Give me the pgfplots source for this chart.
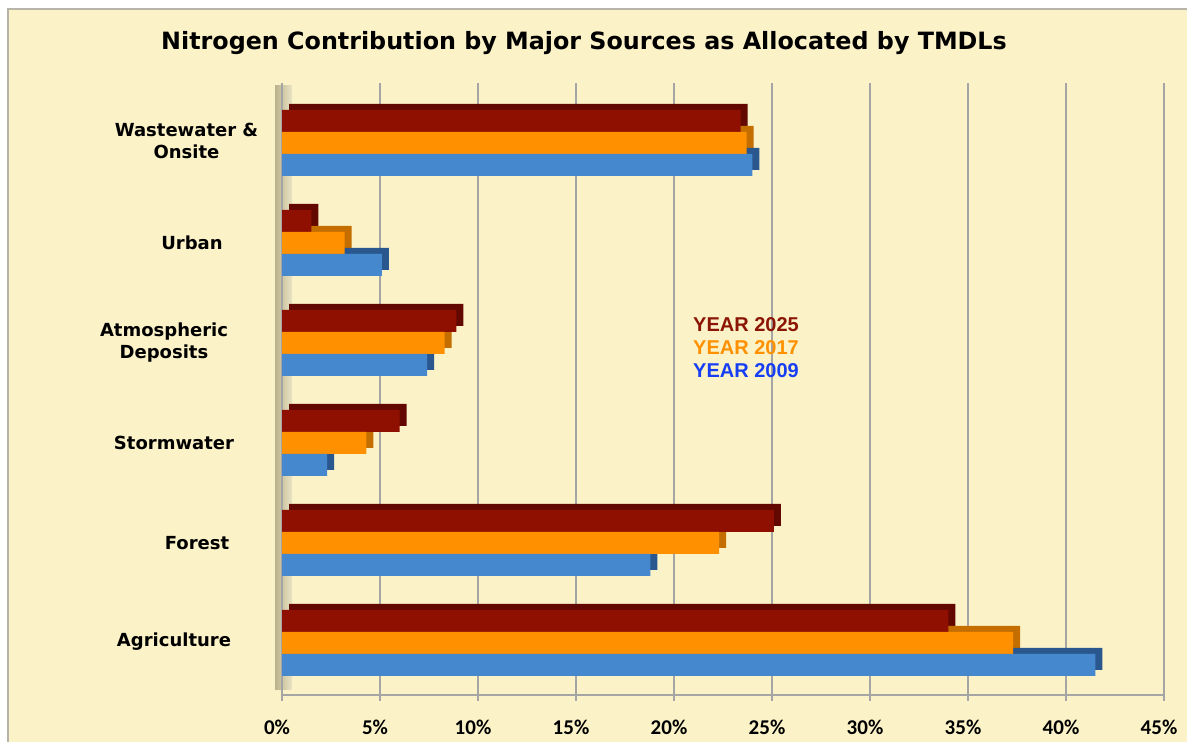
\documentclass[border=0pt]{standalone}
\usepackage{pgfplots}
\pgfplotsset{compat=1.18}
\usepackage{pgfplotstable}
\usepackage{fontspec}
\setmainfont{DejaVu Sans}
\newfontfamily\legfont{Liberation Sans}
\newfontfamily\tickfont{Carlito}

\definecolor{bg}{RGB}{251,242,200}
\definecolor{frame}{RGB}{185,180,170}
\definecolor{cA}{RGB}{143,16,0}
\definecolor{cAd}{RGB}{98,8,0}
\definecolor{cB}{RGB}{255,145,0}
\definecolor{cBd}{RGB}{196,110,0}
\definecolor{cC}{RGB}{70,136,206}
\definecolor{cCd}{RGB}{42,88,142}
\definecolor{tA}{RGB}{140,22,6}
\definecolor{tB}{RGB}{255,145,0}
\definecolor{tC}{RGB}{22,62,245}
\definecolor{gridc}{RGB}{165,165,165}
\definecolor{wallL}{RGB}{185,178,140}
\definecolor{wallR}{RGB}{235,228,196}

\pgfplotstableread{
pos y2025 y2017 y2009
0 34.0 37.3 41.5
1 25.1 22.3 18.8
2 6.0 4.3 2.3
3 8.9 8.3 7.4
4 1.5 3.2 5.1
5 23.4 23.7 24.0
}\datatable

\begin{document}
\begin{tikzpicture}
\useasboundingbox (0,0) rectangle (593.5pt,371pt);
\fill[white] (0,0) rectangle (593.5pt,371pt);
\filldraw[fill=bg, draw=frame, line width=0.8pt] (4pt,-3pt) rectangle (597pt,366.5pt);
\shade[left color=wallL, right color=wallR] (137.5pt,26pt) rectangle (146pt,328pt);
\node[font=\bfseries\fontsize{11.9}{14}\selectfont] at (292pt,349.5pt) {Nitrogen Contribution by Major Sources as Allocated by TMDLs};
\begin{axis}[
  at={(141pt,23.5pt)}, anchor=south west,
  scale only axis, width=441pt, height=306pt,
  xmin=0, xmax=45, ymin=-0.52, ymax=5.6,
  axis background/.style={fill=none},
  separate axis lines,
  axis x line*=bottom, axis y line*=left,
  x axis line style={gridc, line width=0.6pt},
  y axis line style={draw=none},
  xtick={0,5,...,45},
  xticklabel={\pgfmathprintnumber{\tick}\%},
  xticklabel style={anchor=center, yshift=-13pt, xshift=-2.5pt, font=\tickfont\bfseries\fontsize{10.5}{12}\selectfont},
  /pgf/number format/assume math mode=true,
  xtick style={gridc, line width=0.6pt},
  tick align=outside, major tick length=3pt,
  ytick={0,...,5},
  ytick style={draw=none},
  yticklabels={
    \raisebox{3pt}{Agriculture},
    \kern23pt Forest,
    Stormwater,
    {\begin{tabular}{@{}c@{}}Atmospheric\\Deposits\end{tabular}\kern10pt},
    \raisebox{-4pt}{\kern18pt Urban},
    {\raisebox{3pt}{\kern12.5pt\begin{tabular}{@{}c@{}}Wastewater \&\\Onsite\end{tabular}}}
  },
  yticklabel style={anchor=center, xshift=-51pt, font=\bfseries\fontsize{9}{11}\selectfont},
  xmajorgrids, major grid style={gridc, line width=0.6pt},
  legend style={at={(0.459,0.627)}, anchor=north west, draw=none, fill=none,
    font=\legfont\bfseries\fontsize{10}{12}\selectfont,
    nodes={inner sep=0pt, text height=8pt, text depth=3.5pt}, row sep=0pt},
  legend cell align=left,
  xbar, bar width=0.22,
]
% depth faces
\addplot[xbar, bar shift=0.22, fill=cAd, draw=none, xshift=3.5pt, yshift=3pt, forget plot] table[x=y2025, y=pos] {\datatable};
\addplot[xbar, bar shift=0, fill=cBd, draw=none, xshift=3.5pt, yshift=3pt, forget plot] table[x=y2017, y=pos] {\datatable};
\addplot[xbar, bar shift=-0.22, fill=cCd, draw=none, xshift=3.5pt, yshift=3pt, forget plot] table[x=y2009, y=pos] {\datatable};
% front faces
\addplot[xbar, bar shift=0.22, fill=cA, draw=none, legend image code/.code={}] table[x=y2025, y=pos] {\datatable};
\addlegendentry{\textcolor{tA}{YEAR 2025}}
\addplot[xbar, bar shift=0, fill=cB, draw=none, legend image code/.code={}] table[x=y2017, y=pos] {\datatable};
\addlegendentry{\textcolor{tB}{YEAR 2017}}
\addplot[xbar, bar shift=-0.22, fill=cC, draw=none, legend image code/.code={}] table[x=y2009, y=pos] {\datatable};
\addlegendentry{\textcolor{tC}{YEAR 2009}}
\end{axis}
\end{tikzpicture}
\end{document}
